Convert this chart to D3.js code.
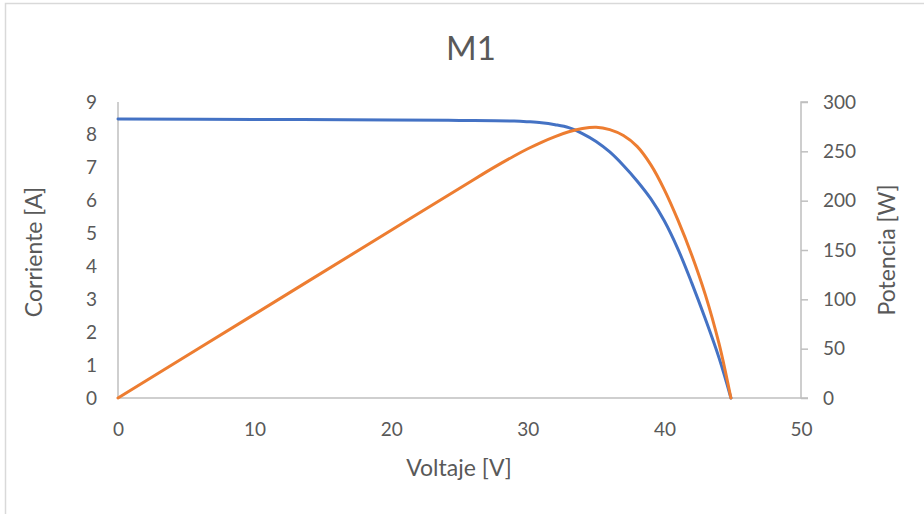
<!DOCTYPE html>
<html>
<head>
<meta charset="utf-8">
<script src="https://cdn.jsdelivr.net/npm/d3@7"></script>
<style>
  body { margin: 0; background: #fff; }
  text { font-family: Lato, "Open Sans", sans-serif; fill: #595959; }
  .axis path, .axis line { stroke: #bfbfbf; stroke-width: 1.5; }
  .axis text { font-size: 19px; fill: #595959; }
</style>
</head>
<body>
<div id="chart"></div>
<script>
// voltage / current readings of the I-V curve (blue)
const voltsI = [0, 10, 20, 25, 29, 30, 31, 32, 33, 34, 35, 36, 37, 38, 39, 40, 41, 42, 43, 44, 44.87];
const current = [8.48, 8.47, 8.455, 8.44, 8.42, 8.40, 8.37, 8.31, 8.22, 8.04, 7.80, 7.48, 7.07, 6.60, 6.06, 5.38, 4.52, 3.50, 2.40, 1.22, 0];

// voltage / power readings of the P-V curve (orange)
const voltsP = [0, 10, 20, 26, 27, 28, 29, 30, 31, 32, 33, 34, 35, 36, 37, 38, 39, 40, 41, 42, 43, 44, 44.5, 44.87];
const power = [0, 85, 170, 221, 229.4, 237.5, 245.3, 252.6, 259.2, 265, 269.8, 273.2, 274.5, 272, 266, 255, 236.5, 211, 180, 145, 104.5, 55, 24.5, 0];

const xTicks = [0, 10, 20, 30, 40, 50];
const iTicks = [0, 1, 2, 3, 4, 5, 6, 7, 8, 9];
const pTicks = [0, 50, 100, 150, 200, 250, 300];

function drawChart(id) {
  const w = 924;
  const h = 514;
  const left = 118, right = 801, top = 102, bottom = 398;

  const svg = d3.select(`#${id}`)
    .append("svg")
    .attr("width", w)
    .attr("height", h);

  // chart area border (only top/left visible in the crop)
  svg.append("rect")
    .attr("x", 5.5).attr("y", 3.5)
    .attr("width", 960).attr("height", 560)
    .attr("fill", "none")
    .attr("stroke", "#d9d9d9")
    .attr("stroke-width", 1.5);

  const x = d3.scaleLinear().domain([0, 50]).range([left, right]);
  const yI = d3.scaleLinear().domain([0, 9]).range([bottom, top]);
  const yP = d3.scaleLinear().domain([0, 300]).range([bottom, top]);

  // axes
  svg.append("g")
    .attr("class", "axis")
    .attr("transform", `translate(0,${bottom})`)
    .call(d3.axisBottom(x).tickValues(xTicks).tickSize(0).tickPadding(25))
    .call(g => g.select(".domain").attr("d", `M${left},0H${right}`));

  svg.append("g")
    .attr("class", "axis")
    .attr("transform", `translate(${left},0)`)
    .call(d3.axisLeft(yI).tickValues(iTicks).tickSize(0).tickPadding(21))
    .call(g => g.select(".domain").attr("d", `M0,${top}V${bottom}`));

  svg.append("g")
    .attr("class", "axis")
    .attr("transform", `translate(${right},0)`)
    .call(d3.axisRight(yP).tickValues(pTicks).tickSize(7).tickPadding(15))
    .call(g => g.select(".domain").attr("d", `M7,${top}H0V${bottom}H7`));

  // curves (smoothed like the spreadsheet's smooth lines)
  const lineI = d3.line()
    .x((d, i) => x(voltsI[i]))
    .y(d => yI(d))
    .curve(d3.curveCatmullRom.alpha(0.5));

  const lineP = d3.line()
    .x((d, i) => x(voltsP[i]))
    .y(d => yP(d))
    .curve(d3.curveCatmullRom.alpha(0.5));

  svg.append("path")
    .attr("d", lineI(current))
    .attr("fill", "none")
    .attr("stroke", "#4472c4")
    .attr("stroke-width", 3)
    .attr("stroke-linecap", "round");

  svg.append("path")
    .attr("d", lineP(power))
    .attr("fill", "none")
    .attr("stroke", "#ed7d31")
    .attr("stroke-width", 3)
    .attr("stroke-linecap", "round");

  // titles
  svg.append("text")
    .attr("x", 471).attr("y", 47)
    .attr("text-anchor", "middle")
    .attr("dominant-baseline", "central")
    .style("font-size", "33px")
    .text("M1");

  svg.append("text")
    .attr("x", 459).attr("y", 467)
    .attr("text-anchor", "middle")
    .attr("dominant-baseline", "central")
    .style("font-size", "23px")
    .text("Voltaje [V]");

  svg.append("text")
    .attr("transform", "translate(33,252) rotate(-90)")
    .attr("text-anchor", "middle")
    .attr("dominant-baseline", "central")
    .style("font-size", "23px")
    .text("Corriente [A]");

  svg.append("text")
    .attr("transform", "translate(886,250) rotate(-90)")
    .attr("text-anchor", "middle")
    .attr("dominant-baseline", "central")
    .style("font-size", "23px")
    .text("Potencia [W]");
}

document.addEventListener("DOMContentLoaded", function () {
  drawChart("chart");
});
</script>
</body>
</html>
